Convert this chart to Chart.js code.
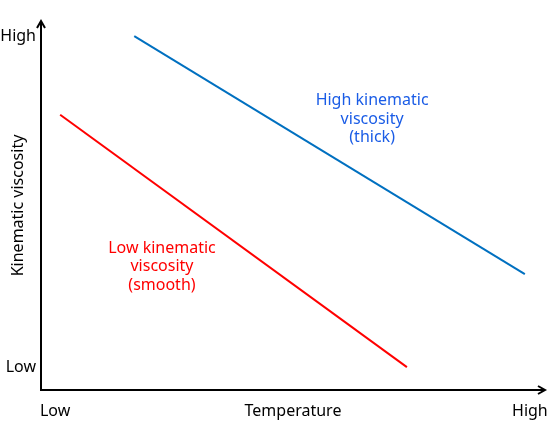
<!DOCTYPE html>
<html>
<head>
<meta charset="utf-8">
<script src="https://cdn.jsdelivr.net/npm/chart.js@4.4.1/dist/chart.umd.min.js"></script>
<style>
    html, body { margin: 0; padding: 0; background: #fff; }
    #wrap { width: 550px; height: 440px; }
</style>
</head>
<body>
<div id="wrap"><canvas id="viscosityChart"></canvas></div>
<script>
// Chart data (relative units, 0-100 on both axes)
const highViscosityX = [18.5, 96.0];
const highViscosityY = [95.9, 31.4];
const lowViscosityX = [3.8, 72.6];
const lowViscosityY = [74.6, 6.2];

// Axis tick labels
const xTickValues = [2.8, 97.0];
const xTickLabels = ['Low', 'High'];
const yTickValues = [6.2, 95.9];
const yTickLabels = ['Low', 'High'];
const xTitle = 'Temperature';
const yTitle = 'Kinematic viscosity';

// Annotations
const highLabel = ['High kinematic', 'viscosity', '(thick)'];
const lowLabel = ['Low kinematic', 'viscosity', '(smooth)'];

const FONT = '"Noto Sans", "DejaVu Sans", sans-serif';
const FONT_SIZE = 16;

function toPoints(xs, ys) {
    return xs.map((x, i) => ({ x: x, y: ys[i] }));
}

// Draws the arrow axes, axis titles and the text annotations
const axisArrows = {
    id: 'axisArrows',
    afterDraw(chart) {
        const ctx = chart.ctx;
        const x = chart.scales.x;
        const y = chart.scales.y;
        const ox = x.getPixelForValue(0);
        const oy = y.getPixelForValue(0);
        const right = x.getPixelForValue(100);
        const top = y.getPixelForValue(100);

        ctx.save();
        ctx.strokeStyle = '#000';
        ctx.lineWidth = 2;
        ctx.beginPath();
        ctx.moveTo(ox, top + 1);
        ctx.lineTo(ox, oy);
        ctx.lineTo(right - 1, oy);
        ctx.stroke();

        // arrow heads
        ctx.beginPath();
        ctx.moveTo(ox - 4, top + 7);
        ctx.lineTo(ox, top);
        ctx.lineTo(ox + 4, top + 7);
        ctx.moveTo(right - 7, oy - 4);
        ctx.lineTo(right, oy);
        ctx.lineTo(right - 7, oy + 4);
        ctx.stroke();

        ctx.font = FONT_SIZE + 'px ' + FONT;
        ctx.textAlign = 'center';
        ctx.textBaseline = 'middle';

        // axis titles
        ctx.fillStyle = '#000';
        ctx.fillText(xTitle, x.getPixelForValue(50), oy + 21);
        ctx.save();
        ctx.translate(18, y.getPixelForValue(50));
        ctx.rotate(-Math.PI / 2);
        ctx.fillText(yTitle, 0, 0);
        ctx.restore();

        ctx.fillStyle = '#1a5ce6';
        highLabel.forEach((t, i) => ctx.fillText(t, x.getPixelForValue(65.7), y.getPixelForValue(78.4) + i * 18.5));

        ctx.fillStyle = '#ff0000';
        lowLabel.forEach((t, i) => ctx.fillText(t, x.getPixelForValue(24), y.getPixelForValue(38.4) + i * 18.5));

        ctx.restore();
    }
};

const ctx = document.getElementById('viscosityChart').getContext('2d');
new Chart(ctx, {
    type: 'scatter',
    data: {
        datasets: [
            {
                label: 'High kinematic viscosity',
                data: toPoints(highViscosityX, highViscosityY),
                showLine: true,
                borderColor: '#0070c0',
                borderWidth: 2,
                pointRadius: 0
            },
            {
                label: 'Low kinematic viscosity',
                data: toPoints(lowViscosityX, lowViscosityY),
                showLine: true,
                borderColor: '#ff0000',
                borderWidth: 2,
                pointRadius: 0
            }
        ]
    },
    options: {
        responsive: true,
        maintainAspectRatio: false,
        animation: false,
        layout: { padding: { top: 21, right: 5, left: 0, bottom: 0 } },
        plugins: {
            legend: { display: false },
            tooltip: { enabled: false }
        },
        scales: {
            x: {
                type: 'linear',
                min: 0,
                max: 100,
                grid: { display: false, drawTicks: false },
                border: { display: false },
                afterBuildTicks: (scale) => { scale.ticks = xTickValues.map(v => ({ value: v })); },
                afterFit: (scale) => {
                    scale.height = 50;
                    scale.paddingLeft = 0;
                    scale.paddingRight = 0;
                },
                ticks: {
                    color: '#000',
                    padding: 12,
                    maxRotation: 0,
                    font: { family: FONT, size: FONT_SIZE },
                    callback: (v, i) => xTickLabels[i]
                }
            },
            y: {
                type: 'linear',
                min: 0,
                max: 100,
                grid: { display: false, drawTicks: false },
                border: { display: false },
                afterBuildTicks: (scale) => { scale.ticks = yTickValues.map(v => ({ value: v })); },
                afterFit: (scale) => {
                    scale.width = 41;
                    scale.paddingTop = 0;
                    scale.paddingBottom = 0;
                },
                ticks: {
                    color: '#000',
                    padding: 5,
                    font: { family: FONT, size: FONT_SIZE },
                    callback: (v, i) => yTickLabels[i]
                }
            }
        }
    },
    plugins: [axisArrows]
});
</script>
</body>
</html>
